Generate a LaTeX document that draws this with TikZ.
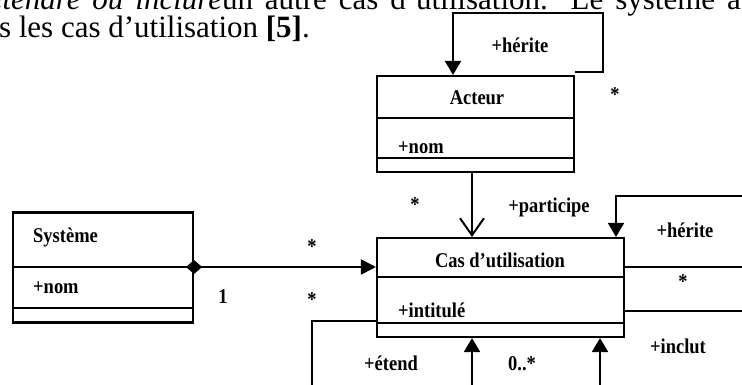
\documentclass[tikz,border=0pt]{standalone}
\usepackage{fontspec}
\setmainfont{Liberation Serif}
\newfontfamily\labelfont{Liberation Serif}[FakeStretch=0.88]
\usetikzlibrary{arrows.meta}

\tikzset{
  classbox/.style={draw, line width=2.1pt, inner sep=0pt},
  sepline/.style={line width=1.3pt},
  conn/.style={line width=2pt},
  lbl/.style={inner sep=0pt, font=\labelfont\fontsize{21}{22}\selectfont\bfseries},
  body/.style={inner sep=0pt, font=\fontsize{31}{34}\selectfont},
  filled/.style={-{Triangle[length=14pt,width=16pt]}},
  openhead/.style={-{Straight Barb[length=17pt,width=24pt,line width=2pt]}},
}

\begin{document}
\begin{tikzpicture}[x=1pt,y=-1pt]
\useasboundingbox (0,0) rectangle (742,385);
\clip (0,0) rectangle (742,385);

% running text above the diagram (justified line, then the last line)
\node[body, anchor=base east] (line1) at (741,10)
  {\hbox to 752pt{\textit{étendre ou inclure}un autre cas d’utilisation. Le système a}};
\node[body, anchor=base east] (line2) at (310,38)
  {tous les cas d’utilisation \textbf{[5]}.};

% class boxes
\node[classbox, minimum width=197pt, minimum height=96pt] (act) at (475.5,124) {};
\node[classbox, minimum width=247pt, minimum height=99pt] (cas) at (500.5,287.5) {};
\node[classbox, minimum width=180pt, minimum height=110pt] (sys) at (103,267.5) {};

% compartment separators
\draw[sepline] (act.west |- 0,118) -- (act.east |- 0,118);
\draw[sepline] (act.west |- 0,158) -- (act.east |- 0,158);
\draw[sepline] (cas.west |- 0,277) -- (cas.east |- 0,277);
\draw[sepline] (cas.west |- 0,323) -- (cas.east |- 0,323);
\draw[sepline] (sys.west |- 0,267) -- (sys.east |- 0,267);
\draw[sepline] (sys.west |- 0,308) -- (sys.east |- 0,308);

% class names and attributes
\node[lbl, anchor=base] (actname) at (477,105) {Acteur};
\node[lbl, anchor=base west] (actattr) at (398,154) {+nom};
\node[lbl, anchor=base] (casname) at (500,267) {Cas d’utilisation};
\node[lbl, anchor=base west] (casattr) at (398,317) {+intitulé};
\node[lbl, anchor=base west] (sysname) at (33,242) {Système};
\node[lbl, anchor=base west] (sysattr) at (33,293) {+nom};

% helper coordinates for connector positions
\coordinate (xa) at (453,0);
\coordinate (xb) at (472,0);
\coordinate (xc) at (600,0);
\coordinate (xd) at (616,0);
\coordinate (loopA) at (603,13);
\coordinate (loopB) at (760,196);
\coordinate (outA) at (760,267);
\coordinate (outB) at (760,311);
\coordinate (upA) at (472,400);
\coordinate (upB) at (600,400);
\coordinate (extA) at (312,400);
\coordinate (yext) at (0,321);
\coordinate (yagg) at (0,267);

% Acteur inherits from itself
\draw[conn, filled] ([yshift=3pt]act.north east) -| (loopA) -| (act.north -| xa);
% Acteur participates in a use case
\draw[conn, openhead] (act.south -| xb) -- (cas.north -| xb);
% use case inheritance loop
\draw[conn, filled] (loopB) -| (cas.north -| xd);
% include association
\draw[conn] (cas.east |- yagg) -- (outA);
\draw[conn] (cas.east |- 0,311) -- (outB);
% extend and include arrows from below
\draw[conn, filled] (upA) -- (cas.south -| xb);
\draw[conn, filled] (upB) -- (cas.south -| xc);
\draw[conn] (extA) |- (cas.west |- yext);
% system aggregates use cases
\draw[conn, {Diamond[length=16pt,width=14pt]}-{Triangle[length=15pt,width=15pt]}]
  ([xshift=-8pt]sys.east |- yagg) -- (cas.west |- yagg);

% multiplicities and roles
\node[lbl, anchor=base] (h1) at (520,53) {+hérite};
\node[lbl] (m1) at (615,95) {*};
\node[lbl] (m2) at (415,205) {*};
\node[lbl, anchor=base] (part) at (549,212) {+participe};
\node[lbl, anchor=base] (h2) at (685,237) {+hérite};
\node[lbl] (m3) at (683,282) {*};
\node[lbl, anchor=base] (incl) at (678,353) {+inclut};
\node[lbl, anchor=base] (ext) at (391,370) {+étend};
\node[lbl, anchor=base] (m4) at (522,370) {0..*};
\node[lbl] (m5) at (312,247) {*};
\node[lbl, anchor=base] (one) at (223,303) {1};
\node[lbl] (m6) at (312,300) {*};
\end{tikzpicture}
\end{document}
